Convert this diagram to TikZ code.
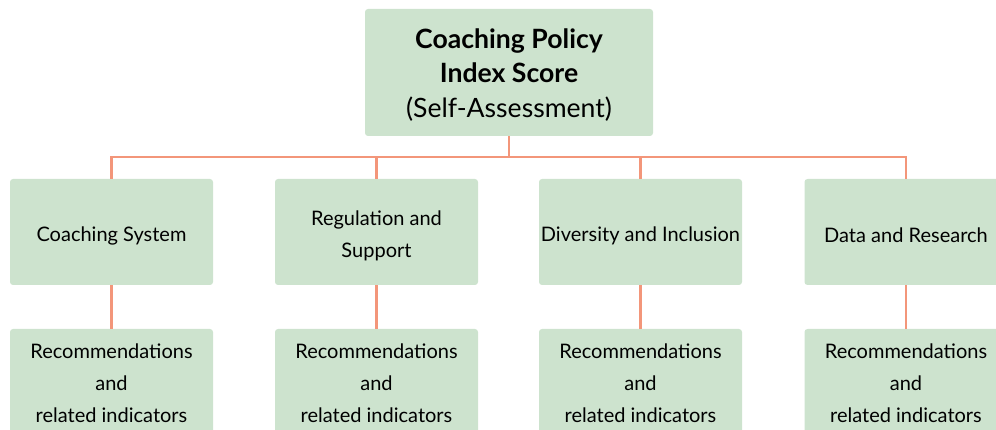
\documentclass[tikz,border=0pt]{standalone}
\usepackage{fontspec}
\setmainfont{Lato}
\definecolor{boxgreen}{RGB}{205,227,206}
\definecolor{linesalmon}{RGB}{243,150,122}
\begin{document}
\begin{tikzpicture}[x=1pt,y=-1pt,
  box/.style={fill=boxgreen, draw=none, rounded corners=3pt, inner sep=0pt},
  topbox/.style={box, minimum width=288pt, minimum height=127pt},
  midbox/.style={box, minimum width=203pt, minimum height=106pt},
  lowbox/.style={box, minimum width=203pt, minimum height=106pt},
  toptext/.style={align=center, inner sep=0pt, font=\fontsize{26.6}{34.5}\selectfont},
  boxtext/.style={align=center, inner sep=0pt, font=\fontsize{20}{32}\selectfont},
  conn/.style={draw=linesalmon, line width=2.6pt}
]
\useasboundingbox (0,0) rectangle (996,430);
\clip (0,0) rectangle (996,430);
\node[topbox] (top) at (509,72.5) {};
\node[toptext] (topt) at ([yshift=-2.5pt]top.center) {\textbf{Coaching Policy}\\\textbf{Index Score}\\(Self-Assessment)};
\node[midbox] (m1) at (111.5,232) {};
\node[midbox] (m2) at (376.5,232) {};
\node[midbox] (m3) at (640.5,232) {};
\node[midbox] (m4) at (906,232) {};
\node[boxtext] (m1t) at ([yshift=-3.5pt]m1.center) {Coaching System};
\node[boxtext] (m2t) at ([yshift=-3.5pt]m2.center) {Regulation and\\Support};
\node[boxtext] (m3t) at ([yshift=-3.5pt]m3.center) {Diversity and Inclusion};
\node[boxtext] (m4t) at ([yshift=-3.5pt]m4.center) {Data and Research};
\foreach \i/\x in {1/111.5,2/376.5,3/640.5,4/906}{
  \node[lowbox] (r\i) at (\x,382) {};
  \node[boxtext] (r\i t) at ([yshift=-1pt]r\i.center) {Recommendations\\and\\related indicators};
}
\coordinate (bus) at (509,157);
\draw[conn] (top.south) -- (bus);
\foreach \i in {1,2,3,4}{
  \draw[conn] (bus) -| (m\i.north);
  \draw[conn] (m\i.south) -- (r\i.north);
}
\end{tikzpicture}
\end{document}
